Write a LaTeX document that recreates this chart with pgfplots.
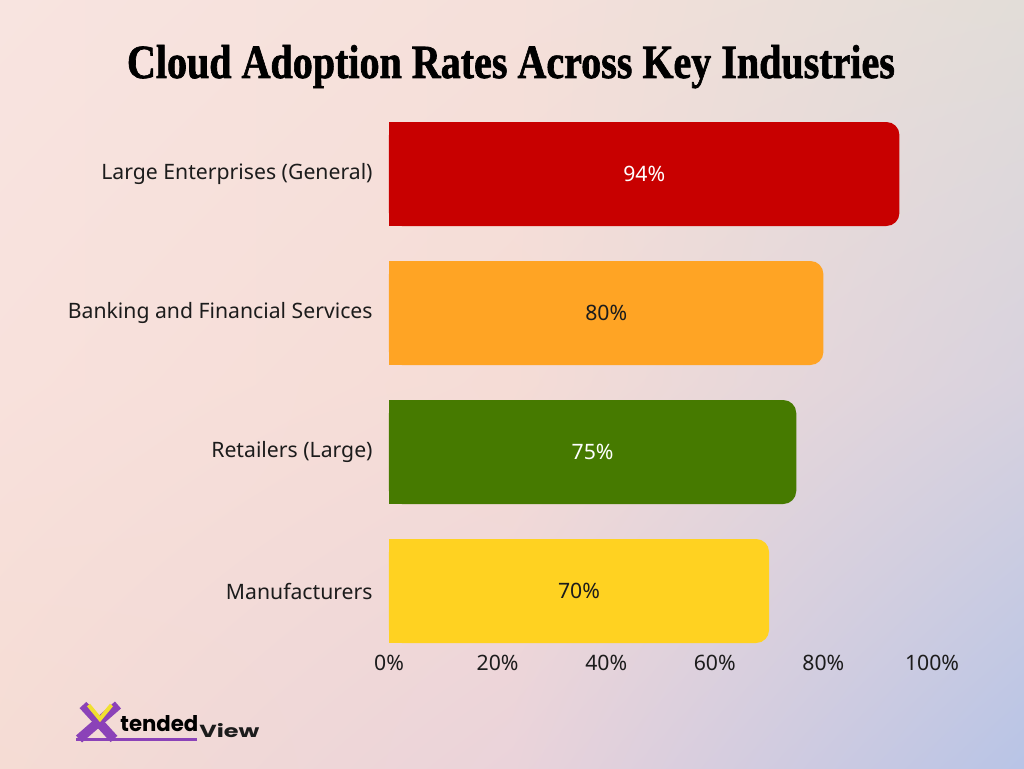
\documentclass[border=0pt]{standalone}
\usepackage{pgfplots}
\pgfplotsset{compat=1.18}
\usepackage{pgfplotstable}
\usetikzlibrary{shadings}
\usepackage{graphicx}
\usepackage{fontspec}
\setmainfont{Noto Sans}
\newfontfamily\titlefont{Liberation Serif}[FakeBold=1.5]
\newfontfamily\logofont{Poppins}

\definecolor{cRed}{HTML}{C80000}
\definecolor{cOrange}{HTML}{FFA424}
\definecolor{cGreen}{HTML}{467A00}
\definecolor{cYellow}{HTML}{FFD221}
\definecolor{ink}{HTML}{1C1C1C}
\definecolor{logoPurple}{HTML}{8B42B8}
\definecolor{logoYellow}{HTML}{F0E030}

% background colour grid (3 x 3)
\definecolor{bgTL}{HTML}{F8E4E0}
\definecolor{bgTM}{HTML}{F5E0DA}
\definecolor{bgTR}{HTML}{E2DDD8}
\definecolor{bgML}{HTML}{F8E1DC}
\definecolor{bgMM}{HTML}{F5DCD6}
\definecolor{bgMR}{HTML}{D8D2DE}
\definecolor{bgBL}{HTML}{F5DCD4}
\definecolor{bgBM}{HTML}{EAD3DA}
\definecolor{bgBR}{HTML}{B8C4E6}

% adoption rates, one row per industry (y = row position, v = percent)
\pgfplotstableread{
y v
3 94
}\rowLarge
\pgfplotstableread{
y v
2 80
}\rowBank
\pgfplotstableread{
y v
1 75
}\rowRetail
\pgfplotstableread{
y v
0 70
}\rowManu

\pgfplotsset{
  barbase/.style={xbar, bar width=52pt, bar shift=0pt, draw=none},
  barlabel/.style={
    nodes near coords={\pgfmathprintnumber{\pgfplotspointmeta}\%},
    point meta=\thisrow{v},
    every node near coord/.append style={anchor=center, text=#1,
      font=\fontsize{10.6}{12}\selectfont},
  },
}

\begin{document}
\begin{tikzpicture}
\begin{scope}[x=0.5pt, y=-0.5pt, shift={(0pt,384pt)}]
  % background gradient
  \shade[upper left=bgTL, upper right=bgTM, lower left=bgML, lower right=bgMM]
    (0,0) rectangle (512,384);
  \shade[upper left=bgTM, upper right=bgTR, lower left=bgMM, lower right=bgMR]
    (512,0) rectangle (1024,384);
  \shade[upper left=bgML, upper right=bgMM, lower left=bgBL, lower right=bgBM]
    (0,384) rectangle (512,768);
  \shade[upper left=bgMM, upper right=bgMR, lower left=bgBM, lower right=bgBR]
    (512,384) rectangle (1024,768);

  % title
  \node[anchor=base, inner sep=0pt] at (511,78)
    {\resizebox{384pt}{16.5pt}{\titlefont\bfseries Cloud Adoption Rates Across Key Industries}};

  % logo
  \draw[logoPurple, line width=1.5pt] (76,739) -- (197,739);
  \draw[logoPurple, line width=4.6pt] (83,705) -- (114,739);
  \draw[logoPurple, line width=4.6pt] (118,705) -- (79,739);
  \draw[logoYellow, line width=2pt, line join=miter] (88.5,705) -- (100,719) -- (111.5,705);
  \node[anchor=base west, inner sep=0pt, text=black] at (120,731)
    {\resizebox{39pt}{8pt}{\logofont\bfseries tended}};
  \node[anchor=base west, inner sep=0pt, text=ink] at (199,737)
    {\resizebox{30pt}{7pt}{\logofont\bfseries View}};
\end{scope}

\begin{axis}[
  at={(194.5pt,53.75pt)}, anchor=south west,
  scale only axis, width=271.5pt, height=278pt,
  xmin=0, xmax=100, ymin=-0.5, ymax=3.5,
  axis line style={draw=none},
  tick style={draw=none},
  /pgf/number format/assume math mode=true,
  xtick={0,20,40,60,80,100},
  xticklabels={0\%,20\%,40\%,60\%,80\%,100\%},
  ytick={0,1,2,3},
  yticklabels={Manufacturers, Retailers (Large), Banking and Financial Services, Large Enterprises (General)},
  ticklabel style={font=\fontsize{10.6}{12}\selectfont, text=ink},
  xticklabel style={anchor=center, yshift=-1.25pt},
  yticklabel style={anchor=east, inner sep=0pt, xshift=-8pt},
  clip=false,
]
  % rounded bars, then the square left half of each bar carrying its label
  \addplot[barbase, fill=cRed, rounded corners=6.5pt] table[x=v, y=y]{\rowLarge};
  \addplot[barbase, fill=cRed, barlabel=white] table[x expr=\thisrow{v}/2, y=y]{\rowLarge};

  \addplot[barbase, fill=cOrange, rounded corners=6.5pt] table[x=v, y=y]{\rowBank};
  \addplot[barbase, fill=cOrange, barlabel=ink] table[x expr=\thisrow{v}/2, y=y]{\rowBank};

  \addplot[barbase, fill=cGreen, rounded corners=6.5pt] table[x=v, y=y]{\rowRetail};
  \addplot[barbase, fill=cGreen, barlabel=white] table[x expr=\thisrow{v}/2, y=y]{\rowRetail};

  \addplot[barbase, fill=cYellow, rounded corners=6.5pt] table[x=v, y=y]{\rowManu};
  \addplot[barbase, fill=cYellow, barlabel=ink] table[x expr=\thisrow{v}/2, y=y]{\rowManu};
\end{axis}
\end{tikzpicture}
\end{document}
